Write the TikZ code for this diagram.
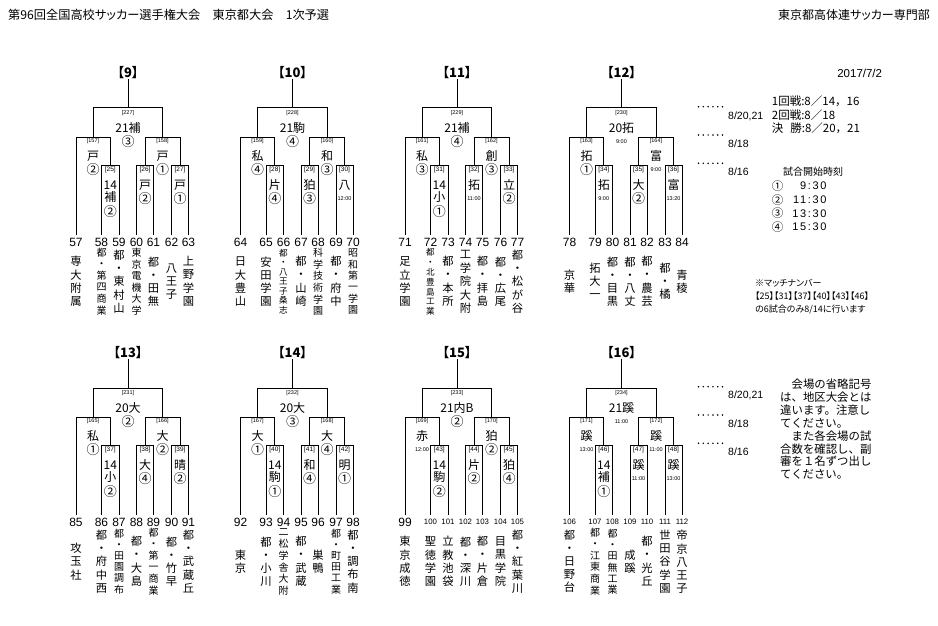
\documentclass[tikz,border=0pt]{standalone}
\usepackage{fontspec}
\setmainfont{Noto Sans CJK JP}
\newfontfamily\jpp{Noto Sans CJK JP}[RawFeature=+palt]
\newfontfamily\arial{Liberation Sans}
\newfontfamily\arialw{Liberation Sans}[LetterSpace=15]

\ExplSyntaxOn
\tl_new:N \l_vtx_tl
\int_new:N \l_vtx_int
\NewDocumentCommand\vt{m}{
  \tl_clear:N \l_vtx_tl
  \int_set:Nn \l_vtx_int {\tl_count:n {#1}}
  \tl_map_inline:nn {#1}
   {
    \tl_if_empty:NF \l_vtx_tl {\tl_put_right:Nn \l_vtx_tl {\\}}
    \tl_put_right:Nn \l_vtx_tl {##1}
   }
  \int_compare:nNnTF \l_vtx_int > 6
   {\fontsize{8.6}{9.4}\selectfont}
   {\int_compare:nNnTF \l_vtx_int > 5
     {\fontsize{10}{11}\selectfont}
     {\fontsize{11.3}{13}\selectfont}}
  \renewcommand\arraystretch{1}
  \setlength\tabcolsep{0pt}
  \begin{tabular}{c}
   \tl_use:N \l_vtx_tl
  \end{tabular}
}
\ExplSyntaxOff

\tikzset{
  br/.style={line width=1pt},
  ttl/.style={font=\jpp\bfseries\fontsize{13}{13}\selectfont, inner sep=0pt},
  mno/.style={font=\arial\fontsize{5.5}{6}\selectfont, inner sep=0pt},
  sno/.style={font=\arial\fontsize{6.5}{7}\selectfont, inner sep=0pt},
  lbl/.style={font=\fontsize{12}{12}\selectfont, inner sep=0pt},
  res/.style={inner sep=0pt},
  tn/.style={font=\arial, inner sep=0pt},
  tname/.style={inner sep=0pt},
  dots/.style={line width=1.7pt, dash pattern=on 0pt off 4.8pt, line cap=round},
  dlab/.style={font=\arial\fontsize{10.5}{11}\selectfont, inner sep=0pt, anchor=west},
  rtxt/.style={font=\fontsize{11.5}{12}\selectfont, inner sep=0pt, anchor=west},
}

\newcommand\cir[1]{{\fontsize{13}{13}\selectfont#1}}
\newcommand\tmx[1]{{\arial\fontsize{5.5}{6}\selectfont#1}}
\newcommand\tnum[1]{\ifnum#1>99 \fontsize{7.8}{8}\selectfont\else\fontsize{12}{12}\selectfont\fi#1}

% name, x, y, match no, style, text, result
\newcommand\grp[7]{%
  \node[#5] (#1n) at (#2,#3) {[#4]};
  \node[lbl] (#1t) at (#2,#3+15) {#6};
  \node[res] (#1r) at (#2,#3+28.5) {#7};}
% name, x, y, match no, line1, line2, result
\newcommand\grpthree[7]{%
  \node[sno] (#1n) at (#2,#3) {[#4]};
  \node[lbl] (#1a) at (#2,#3+15) {#5};
  \node[lbl] (#1b) at (#2,#3+27) {#6};
  \node[res] (#1r) at (#2,#3+41.5) {#7};}
% bracket id, index, x, number, name
\newcommand\tmm[5]{%
  \node[tn] (b#1n#2) at (#3,169) {\tnum{#4}};
  \node[tname] (b#1s#2) at (#3,210) {\vt{#5}};}
\newcommand\teams[9]{%
  \tmm{#1}{1}{-52}{#2}{#3}
  \tmm{#1}{2}{-26.5}{\the\numexpr#2+1\relax}{#4}
  \tmm{#1}{3}{-9}{\the\numexpr#2+2\relax}{#5}
  \tmm{#1}{4}{8.5}{\the\numexpr#2+3\relax}{#6}
  \tmm{#1}{5}{25.5}{\the\numexpr#2+4\relax}{#7}
  \tmm{#1}{6}{43.5}{\the\numexpr#2+5\relax}{#8}
  \tmm{#1}{7}{60.5}{\the\numexpr#2+6\relax}{#9}}
% id, cx, y0, body
\newcommand\brkt[4]{%
  \begin{scope}[shift={(#2,#3)}]
    \node[ttl] (b#1) at (0,0) {【#1】};
    \draw[br] (b#1.south) -- (0,35);
    \draw[br] (-35,64) -- (-35,35) -- (34.5,35) -- (34.5,64);
    \draw[br] (-52,162) -- (-52,64) -- (-17.75,64) -- (-17.75,92);
    \draw[br] (-26.5,162) -- (-26.5,92) -- (-9,92) -- (-9,162);
    \draw[br] (17,92) -- (17,64) -- (52,64) -- (52,92);
    \draw[br] (8.5,162) -- (8.5,92) -- (25.5,92) -- (25.5,162);
    \draw[br] (43.5,162) -- (43.5,92) -- (60.5,92) -- (60.5,162);
    #4
  \end{scope}}

\begin{document}
\begin{tikzpicture}[x=1pt,y=-1pt]
\fill[white] (0,0) rectangle (938,626);
\useasboundingbox (0,0) rectangle (938,626);

\node[anchor=west, font=\jpp\fontsize{12.2}{12}\selectfont, inner sep=0pt] (hdr) at (8,15) {第96回全国高校サッカー選手権大会　東京都大会　1次予選};
\node[anchor=east, font=\jpp\fontsize{12}{12}\selectfont, inner sep=0pt] (org) at (930,15) {東京都高体連サッカー専門部};

\brkt{9}{128}{73}{
 \grp{b9f}{0}{40}{227}{mno}{21補}{\cir{③}}
 \grp{b9l}{-35}{68}{157}{mno}{戸}{\cir{②}}
 \grpthree{b9a}{-17.75}{97}{25}{14}{補}{\cir{②}}
 \grp{b9r}{34.5}{68}{158}{mno}{戸}{\cir{①}}
 \grp{b9b}{17}{97}{26}{sno}{戸}{\cir{②}}
 \grp{b9c}{52}{97}{27}{sno}{戸}{\cir{①}}
 \teams{9}{57}{専大附属}{都・第四商業}{都・東村山}{東京電機大学}{都・田無}{八王子}{上野学園}
}
\brkt{10}{292.5}{73}{
 \grp{b10f}{0}{40}{228}{mno}{21駒}{\cir{④}}
 \grp{b10l}{-35}{68}{159}{mno}{私}{\cir{④}}
 \grp{b10a}{-17.75}{97}{28}{sno}{片}{\cir{④}}
 \grp{b10r}{34.5}{68}{160}{mno}{和}{\cir{③}}
 \grp{b10b}{17}{97}{29}{sno}{狛}{\cir{③}}
 \grp{b10c}{52}{97}{30}{sno}{八}{\tmx{12:00}}
 \teams{10}{64}{日大豊山}{安田学園}{都・八王子桑志}{都・山崎}{科学技術学園}{都・府中}{昭和第一学園}
}
\brkt{11}{457}{73}{
 \grp{b11f}{0}{40}{229}{mno}{21補}{\cir{④}}
 \grp{b11l}{-35}{68}{161}{mno}{私}{\cir{③}}
 \grpthree{b11a}{-17.75}{97}{31}{14}{小}{\cir{①}}
 \grp{b11r}{34.5}{68}{162}{mno}{創}{\cir{③}}
 \grp{b11b}{17}{97}{32}{sno}{拓}{\tmx{11:00}}
 \grp{b11c}{52}{97}{33}{sno}{立}{\cir{②}}
 \teams{11}{71}{足立学園}{都・北豊島工業}{都・本所}{工学院大附}{都・拝島}{都・広尾}{都・松が谷}
}
\brkt{12}{621.5}{73}{
 \grp{b12f}{0}{40}{230}{mno}{20拓}{\tmx{9:00}}
 \grp{b12l}{-35}{68}{163}{mno}{拓}{\cir{①}}
 \grp{b12a}{-17.75}{97}{34}{sno}{拓}{\tmx{9:00}}
 \grp{b12r}{34.5}{68}{164}{mno}{富}{\tmx{9:00}}
 \grp{b12b}{17}{97}{35}{sno}{大}{\cir{②}}
 \grp{b12c}{52}{97}{36}{sno}{富}{\tmx{13:20}}
 \teams{12}{78}{京華}{拓大一}{都・目黒}{都・八丈}{都・農芸}{都・橘}{青稜}
}
\brkt{13}{128}{353}{
 \grp{b13f}{0}{40}{231}{mno}{20大}{\cir{②}}
 \grp{b13l}{-35}{68}{165}{mno}{私}{\cir{①}}
 \grpthree{b13a}{-17.75}{97}{37}{14}{小}{\cir{②}}
 \grp{b13r}{34.5}{68}{166}{mno}{大}{\cir{②}}
 \grp{b13b}{17}{97}{38}{sno}{大}{\cir{④}}
 \grp{b13c}{52}{97}{39}{sno}{晴}{\cir{②}}
 \teams{13}{85}{攻玉社}{都・府中西}{都・田園調布}{都・大島}{都・第一商業}{都・竹早}{都・武蔵丘}
}
\brkt{14}{292.5}{353}{
 \grp{b14f}{0}{40}{232}{mno}{20大}{\cir{③}}
 \grp{b14l}{-35}{68}{167}{mno}{大}{\cir{①}}
 \grpthree{b14a}{-17.75}{97}{40}{14}{駒}{\cir{①}}
 \grp{b14r}{34.5}{68}{168}{mno}{大}{\cir{④}}
 \grp{b14b}{17}{97}{41}{sno}{和}{\cir{④}}
 \grp{b14c}{52}{97}{42}{sno}{明}{\cir{①}}
 \teams{14}{92}{東京}{都・小川}{二松学舎大附}{都・武蔵}{巣鴨}{都・町田工業}{都・調布南}
}
\brkt{15}{457}{353}{
 \grp{b15f}{0}{40}{233}{mno}{21内B}{\cir{②}}
 \grp{b15l}{-35}{68}{169}{mno}{赤}{\tmx{12:00}}
 \grpthree{b15a}{-17.75}{97}{43}{14}{駒}{\cir{②}}
 \grp{b15r}{34.5}{68}{170}{mno}{狛}{\cir{②}}
 \grp{b15b}{17}{97}{44}{sno}{片}{\cir{②}}
 \grp{b15c}{52}{97}{45}{sno}{狛}{\cir{④}}
 \teams{15}{99}{東京成徳}{聖徳学園}{立教池袋}{都・深川}{都・片倉}{目黒学院}{都・紅葉川}
}
\brkt{16}{621.5}{353}{
 \grp{b16f}{0}{40}{234}{mno}{21蹊}{\tmx{11:00}}
 \grp{b16l}{-35}{68}{171}{mno}{蹊}{\tmx{13:00}}
 \grpthree{b16a}{-17.75}{97}{46}{14}{補}{\cir{①}}
 \grp{b16r}{34.5}{68}{172}{mno}{蹊}{\tmx{11:00}}
 \grp{b16b}{17}{97}{47}{sno}{蹊}{\tmx{11:00}}
 \grp{b16c}{52}{97}{48}{sno}{蹊}{\tmx{13:00}}
 \teams{16}{106}{都・日野台}{都・江東商業}{都・田無工業}{成蹊}{都・光丘}{世田谷学園}{帝京八王子}
}

% right panel, top
\node[font=\arial\fontsize{11.5}{12}\selectfont, inner sep=0pt] (date) at (859.7,73.3) {2017/7/2};
\coordinate (d1a) at (698.5,106.7); \coordinate (d1b) at (723,106.7);
\coordinate (d2a) at (698.5,135);   \coordinate (d2b) at (723,135);
\coordinate (d3a) at (698.5,163.3); \coordinate (d3b) at (723,163.3);
\draw[dots] (d1a) -- (d1b);
\draw[dots] (d2a) -- (d2b);
\draw[dots] (d3a) -- (d3b);
\node[dlab] (l1) at (728,116.7) {8/20,21};
\node[dlab] (l2) at (728,143.3) {8/18};
\node[dlab] (l3) at (728,171.7) {8/16};
\node[rtxt] (r1) at (771.7,101.7) {1回戦:8／14，16};
\node[rtxt] (r2) at (771.7,115) {2回戦:8／18};
\node[rtxt] (r3) at (771.7,128.3) {決\hspace{0.6em}勝:8／20，21};
\node[rtxt, font=\fontsize{10}{10}\selectfont] (kt) at (783,171.7) {試合開始時刻};
\node[rtxt] (c1) at (771.7,186) {①};
\node[rtxt] (c2) at (771.7,199.7) {②};
\node[rtxt] (c3) at (771.7,213.3) {③};
\node[rtxt] (c4) at (771.7,227) {④};
\node[anchor=east, inner sep=0pt, font=\arialw\fontsize{11}{11}\selectfont] (t1) at (826.7,186) {9:30};
\node[anchor=east, inner sep=0pt, font=\arialw\fontsize{11}{11}\selectfont] (t2) at (826.7,199.7) {11:30};
\node[anchor=east, inner sep=0pt, font=\arialw\fontsize{11}{11}\selectfont] (t3) at (826.7,213.3) {13:30};
\node[anchor=east, inner sep=0pt, font=\arialw\fontsize{11}{11}\selectfont] (t4) at (826.7,227) {15:30};

\node[anchor=west, inner sep=0pt, font=\jpp\fontsize{9}{9}\selectfont] (m1) at (755,283.3) {※マッチナンバー};
\node[anchor=west, inner sep=0pt, font=\jpp\fontsize{9}{9}\selectfont] (m2) at (755,296) {【25】【31】【37】【40】【43】【46】};
\node[anchor=west, inner sep=0pt, font=\jpp\fontsize{9}{9}\selectfont] (m3) at (755,310) {の6試合のみ8/14に行います};

% right panel, bottom
\coordinate (e1a) at (698.5,386.7); \coordinate (e1b) at (723,386.7);
\coordinate (e2a) at (698.5,415);   \coordinate (e2b) at (723,415);
\coordinate (e3a) at (698.5,443.3); \coordinate (e3b) at (723,443.3);
\draw[dots] (e1a) -- (e1b);
\draw[dots] (e2a) -- (e2b);
\draw[dots] (e3a) -- (e3b);
\node[dlab] (k1) at (728,395) {8/20,21};
\node[dlab] (k2) at (728,423.3) {8/18};
\node[dlab] (k3) at (728,451.7) {8/16};
\node[anchor=north west, align=left, inner sep=0pt, font=\fontsize{11.4}{12.85}\selectfont] (note) at (780,379) {　会場の省略記号\\は、地区大会とは\\違います。注意し\\てください。\\　また各会場の試\\合数を確認し、副\\審を１名ずつ出し\\てください。};
\end{tikzpicture}
\end{document}
